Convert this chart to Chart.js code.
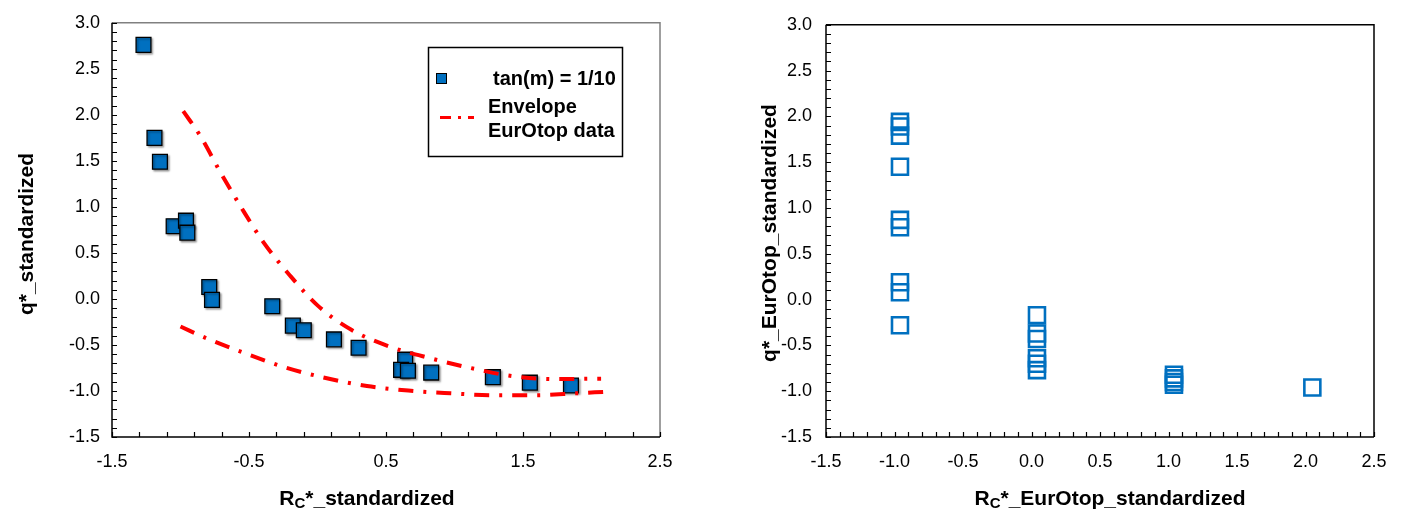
<!DOCTYPE html>
<html>
<head>
<meta charset="utf-8">
<script src="https://cdn.jsdelivr.net/npm/chart.js@4.4.1/dist/chart.umd.min.js"></script>
<style>
  html, body { margin: 0; padding: 0; background: #fff; }
  #wrap { position: relative; width: 1403px; height: 510px; overflow: hidden; }
  canvas { position: absolute; top: 0; }
  #c1 { left: 0; }
  #c2 { left: 700px; }
</style>
</head>
<body>
<div id="wrap">
  <canvas id="c1" width="700" height="510"></canvas>
  <canvas id="c2" width="703" height="510"></canvas>
</div>
<script>
// Tests with slope tan(m) = 1/10, standardized
const rcStd = [-1.27, -1.19, -1.15, -1.05, -0.96, -0.95, -0.79, -0.77, -0.33, -0.18, -0.10,
               0.12, 0.30, 0.64, 0.61, 0.66, 0.83, 1.28, 1.55, 1.85];
const qStd  = [2.76, 1.75, 1.49, 0.79, 0.85, 0.72, 0.13, -0.01, -0.08, -0.29, -0.34,
               -0.44, -0.53, -0.66, -0.77, -0.78, -0.80, -0.85, -0.91, -0.94];

// Envelope of the EurOtop data: upper branch
const envUpperX = [-0.98, -0.855, -0.71, -0.555, -0.394, -0.203, 0.0, 0.244, 0.531, 0.825, 1.123, 1.42, 1.73, 2.07];
const envUpperY = [2.04, 1.77, 1.38, 0.99, 0.615, 0.258, -0.07, -0.333, -0.52, -0.645, -0.752, -0.838, -0.87, -0.867];
// Envelope of the EurOtop data: lower branch
const envLowerX = [-1.0, -0.806, -0.52, -0.233, 0.06, 0.361, 0.663, 0.971, 1.279, 1.586, 1.892, 2.09];
const envLowerY = [-0.30, -0.43, -0.595, -0.745, -0.859, -0.946, -0.996, -1.025, -1.046, -1.046, -1.025, -1.01];

// EurOtop database, standardized
const rcEurOtop = [-0.96, -0.96, -0.96, -0.96, -0.96, -0.96, -0.96, -0.96, -0.96,
                   0.04, 0.04, 0.04, 0.04, 0.04, 0.04,
                   1.04, 1.04, 1.04, 1.04,
                   2.05];
const qEurOtop  = [1.94, 1.89, 1.79, 1.45, 0.87, 0.79, 0.19, 0.08, -0.28,
                   -0.17, -0.37, -0.43, -0.64, -0.70, -0.77,
                   -0.82, -0.86, -0.90, -0.93,
                   -0.96];

// Tick labels
const yTickValues      = [-1.5, -1.0, -0.5, 0.0, 0.5, 1.0, 1.5, 2.0, 2.5, 3.0];
const leftXTickValues  = [-1.5, -0.5, 0.5, 1.5, 2.5];
const rightXTickValues = [-1.5, -1.0, -0.5, 0.0, 0.5, 1.0, 1.5, 2.0, 2.5];

const FONT = "Arial, 'Liberation Sans', sans-serif";
const BLUE = '#0070C0';
const RED = '#FF0000';
const DASH = [15, 10, 3, 10];

const pts = (xs, ys) => xs.map((x, i) => ({ x: x, y: ys[i] }));

function axisCfg(min, max, values, pad, afterFitFn) {
  return {
    type: 'linear',
    min: min, max: max,
    afterBuildTicks: s => { s.ticks = values.map(v => ({ value: v })); },
    afterFit: afterFitFn,
    grid: { display: false, drawTicks: false, drawOnChartArea: false },
    border: { display: false },
    ticks: {
      padding: pad,
      color: '#000',
      font: { family: FONT, size: 18 },
      callback: v => Number(v).toFixed(1)
    }
  };
}

// Axes lines, plot frame and inward tick marks
function framePlugin(cfg) {
  return {
    id: 'frame',
    afterDraw(chart) {
      const { ctx, chartArea: a } = chart;
      const x = chart.scales.x, y = chart.scales.y;
      ctx.save();
      ctx.lineWidth = 1.5;
      ctx.strokeStyle = cfg.edge;
      ctx.beginPath();
      ctx.moveTo(a.left, a.top); ctx.lineTo(a.right, a.top); ctx.lineTo(a.right, a.bottom);
      ctx.stroke();
      ctx.strokeStyle = '#000';
      ctx.beginPath();
      ctx.moveTo(a.left, a.top); ctx.lineTo(a.left, a.bottom); ctx.lineTo(a.right, a.bottom);
      ctx.stroke();
      ctx.lineWidth = 1.2;
      ctx.beginPath();
      const nx = Math.round((x.max - x.min) / cfg.xStep);
      for (let k = 0; k <= nx; k++) {
        const px = Math.round(x.getPixelForValue(x.min + k * cfg.xStep)) + 0.5;
        ctx.moveTo(px, a.bottom); ctx.lineTo(px, a.bottom - 5);
      }
      const ny = Math.round((y.max - y.min) / cfg.yStep);
      for (let k = 0; k <= ny; k++) {
        const py = Math.round(y.getPixelForValue(y.min + k * cfg.yStep)) + 0.5;
        ctx.moveTo(a.left, py); ctx.lineTo(a.left + 5, py);
      }
      ctx.stroke();
      ctx.restore();
    }
  };
}

// Axis titles, with a subscript C in the x title
function titlePlugin(cfg) {
  return {
    id: 'titles',
    afterDraw(chart) {
      const ctx = chart.ctx;
      ctx.save();
      ctx.fillStyle = '#000';
      ctx.textBaseline = 'middle';
      const big = 'bold 21px ' + FONT, small = 'bold 15px ' + FONT;
      // x title
      ctx.font = big;
      const wR = ctx.measureText('R').width;
      const wRest = ctx.measureText(cfg.xRest).width;
      ctx.font = small;
      const wC = ctx.measureText('C').width;
      let sx = cfg.xTitle[0] - (wR + wC + wRest) / 2;
      const sy = cfg.xTitle[1];
      ctx.textAlign = 'left';
      ctx.font = big; ctx.fillText('R', sx, sy); sx += wR;
      ctx.font = small; ctx.fillText('C', sx, sy + 5); sx += wC;
      ctx.font = big; ctx.fillText(cfg.xRest, sx, sy);
      // y title
      ctx.translate(cfg.yTitle[0], cfg.yTitle[1]);
      ctx.rotate(-Math.PI / 2);
      ctx.textAlign = 'center';
      ctx.font = big;
      ctx.fillText(cfg.yText, 0, 0);
      ctx.restore();
    }
  };
}

// Soft shadow under the filled test markers
const shadowPlugin = {
  id: 'markerShadow',
  beforeDatasetDraw(chart, args) {
    if (args.index !== 0) return;
    const ctx = chart.ctx;
    ctx.save();
    ctx.shadowColor = 'rgba(0,0,0,0.35)';
    ctx.shadowOffsetX = 1.5;
    ctx.shadowOffsetY = 1.5;
    ctx.shadowBlur = 2;
  },
  afterDatasetDraw(chart, args) {
    if (args.index !== 0) return;
    chart.ctx.restore();
  }
};

// Boxed legend inside the left plot
const legendBoxPlugin = {
  id: 'legendBox',
  afterDraw(chart) {
    const ctx = chart.ctx;
    ctx.save();
    ctx.fillStyle = '#fff';
    ctx.fillRect(428, 47, 195, 110);
    ctx.strokeStyle = '#000';
    ctx.lineWidth = 1.5;
    ctx.strokeRect(428.5, 47.5, 194, 109);
    // marker
    ctx.fillStyle = BLUE;
    ctx.fillRect(436, 73, 11, 11);
    ctx.lineWidth = 1;
    ctx.strokeRect(436.5, 73.5, 10, 10);
    // line sample
    ctx.strokeStyle = RED;
    ctx.lineWidth = 3;
    ctx.setLineDash([11, 7, 3, 7]);
    ctx.beginPath(); ctx.moveTo(440, 117.5); ctx.lineTo(474, 117.5); ctx.stroke();
    ctx.setLineDash([]);
    ctx.fillStyle = '#000';
    ctx.font = 'bold 20px ' + FONT;
    ctx.textBaseline = 'middle';
    ctx.textAlign = 'left';
    ctx.fillText('tan(m) = 1/10', 493, 79);
    ctx.fillText('Envelope', 488, 107);
    ctx.fillText('EurOtop data', 488, 131);
    ctx.restore();
  }
};

new Chart(document.getElementById('c1'), {
  type: 'scatter',
  data: {
    datasets: [
      {
        label: 'tan(m) = 1/10',
        data: pts(rcStd, qStd),
        pointStyle: 'rect',
        pointRadius: 10.5,
        pointBackgroundColor: BLUE,
        pointBorderColor: '#000',
        pointBorderWidth: 1.3,
        order: 1
      },
      {
        label: 'Envelope EurOtop data',
        type: 'line',
        data: pts(envUpperX, envUpperY),
        borderColor: RED,
        borderWidth: 4,
        borderDash: DASH,
        cubicInterpolationMode: 'monotone',
        pointRadius: 0,
        fill: false,
        order: 0
      },
      {
        label: 'Envelope EurOtop data (lower)',
        type: 'line',
        data: pts(envLowerX, envLowerY),
        borderColor: RED,
        borderWidth: 4,
        borderDash: DASH,
        cubicInterpolationMode: 'monotone',
        pointRadius: 0,
        fill: false,
        order: 0
      }
    ]
  },
  options: {
    responsive: false,
    animation: false,
    devicePixelRatio: 1,
    layout: { padding: { left: 0, right: 40, top: 18, bottom: 0 } },
    plugins: { legend: { display: false }, tooltip: { enabled: false } },
    scales: {
      x: axisCfg(-1.5, 2.5, leftXTickValues, 14, s => { s.height = 73; }),
      y: axisCfg(-1.5, 3.0, yTickValues, 12, s => { s.width = 112; })
    }
  },
  plugins: [shadowPlugin, framePlugin({ edge: '#808080', xStep: 0.2, yStep: 0.1 }),
            legendBoxPlugin,
            titlePlugin({ xTitle: [367, 499], xRest: '*_standardized', yTitle: [27, 234], yText: 'q*_standardized' })]
});

new Chart(document.getElementById('c2'), {
  type: 'scatter',
  data: {
    datasets: [
      {
        label: 'EurOtop',
        data: pts(rcEurOtop, qEurOtop),
        pointStyle: 'rect',
        pointRadius: 11.3,
        pointBackgroundColor: 'rgba(0,0,0,0)',
        pointBorderColor: BLUE,
        pointBorderWidth: 2.6
      }
    ]
  },
  options: {
    responsive: false,
    animation: false,
    devicePixelRatio: 1,
    layout: { padding: { left: 0, right: 29, top: 20, bottom: 0 } },
    plugins: { legend: { display: false }, tooltip: { enabled: false } },
    scales: {
      x: axisCfg(-1.5, 2.5, rightXTickValues, 14, s => { s.height = 73; }),
      y: axisCfg(-1.5, 3.0, yTickValues, 14, s => { s.width = 126; })
    }
  },
  plugins: [framePlugin({ edge: '#000', xStep: 0.1, yStep: 0.1 }),
            titlePlugin({ xTitle: [410, 499], xRest: '*_EurOtop_standardized', yTitle: [70, 233], yText: 'q*_EurOtop_standardized' })]
});
</script>
</body>
</html>
